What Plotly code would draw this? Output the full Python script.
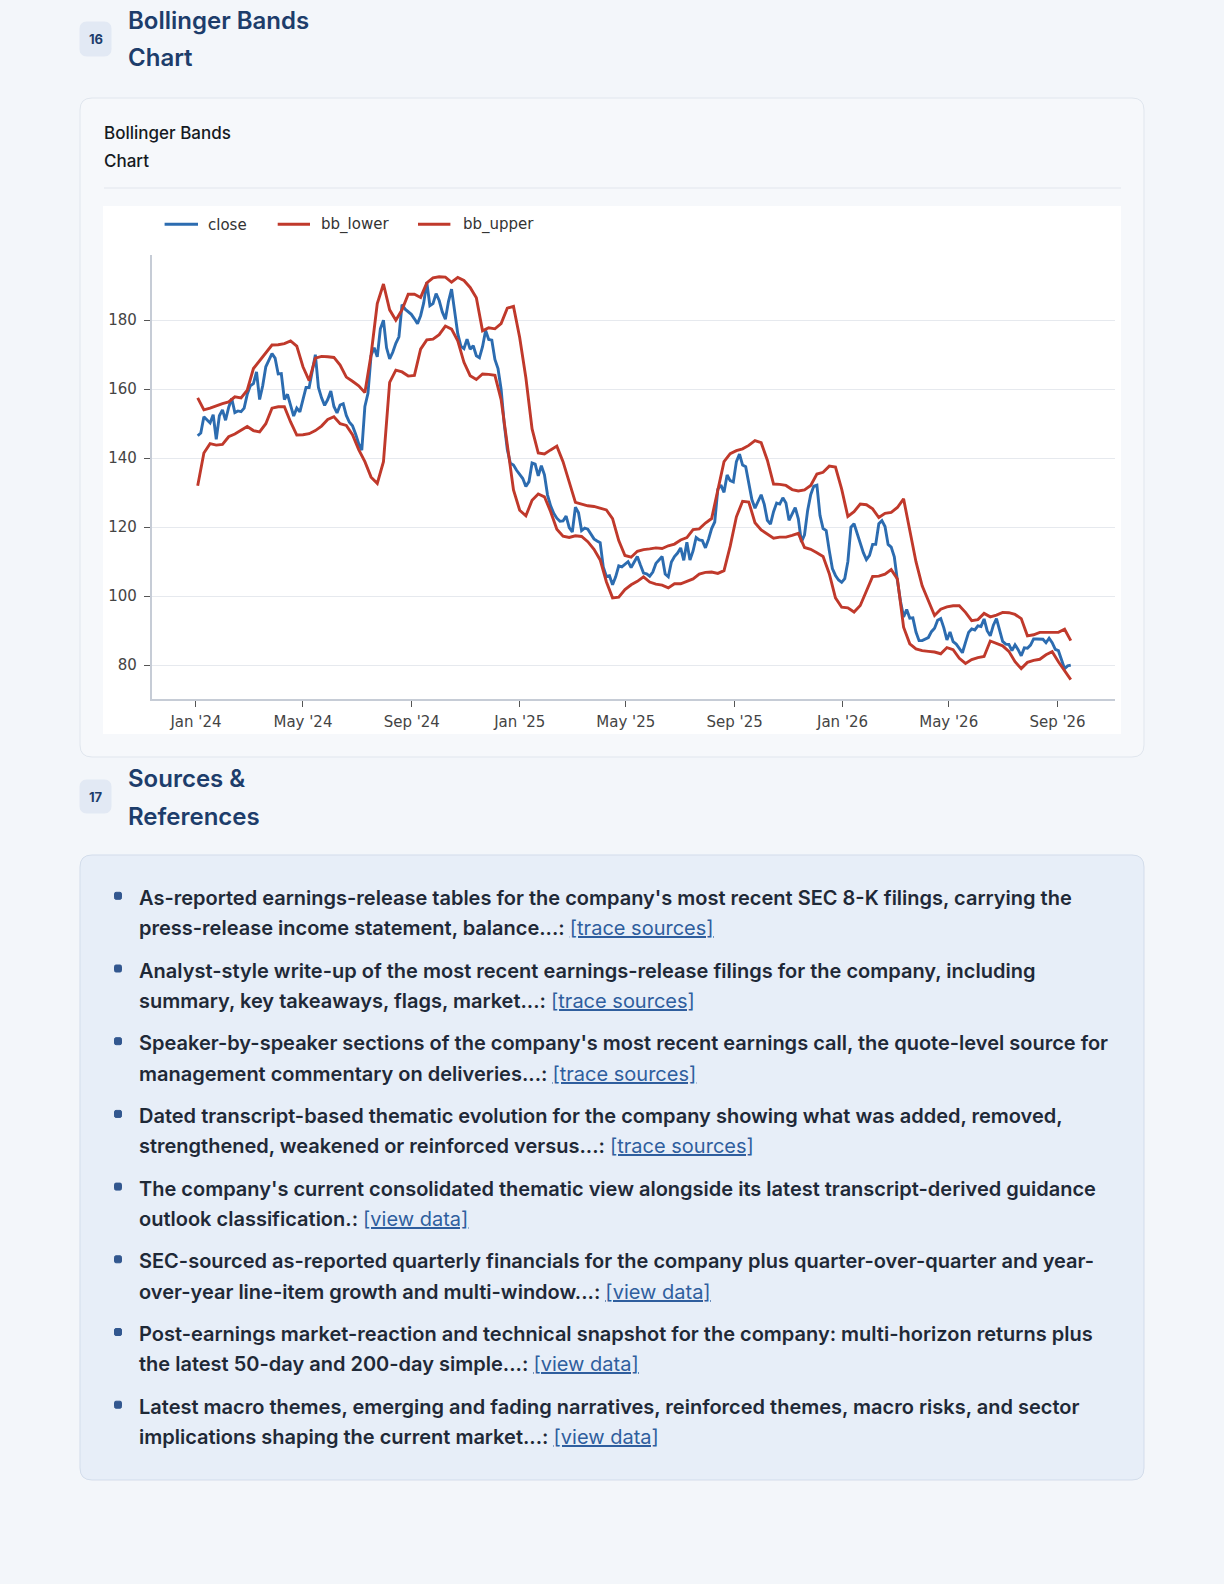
"""Bollinger Bands report page, rebuilt as a single Plotly figure."""

import pandas as pd
import plotly.graph_objects as go

W, H = 1224, 1584

PAGE = "#f3f6fa"
CARD = "#f6f8fb"
CARD_LINE = "#e0e6ee"
SRC_CARD = "#e7eef8"
SRC_LINE = "#d3ddeb"
BADGE = "#e2e9f4"
NAVY = "#1d3d6b"
BLUE = "#2c6cb0"
RED = "#c0392b"
INK = "#1f2937"
LINK = "#2f5e9e"
UI_FONT = "Inter, Roboto, sans-serif"
MPL_FONT = "DejaVu Sans, sans-serif"

# --------------------------------------------------------------------------- #
# Data: close read twice a week, bands read weekly (Jan 2024 - mid Sep 2026)
# --------------------------------------------------------------------------- #
close = [
    146.5, 147.3, 152, 151.2, 150.2, 152.6, 145.5, 152.3, 154, 151,
    154.7, 157.3, 153.2, 153.7, 153.5, 154.5, 158.5, 161, 161.6, 165,
    157, 161, 166.5, 168.4, 170.3, 169, 164.4, 164.5, 157, 158.5,
    155, 152.2, 154.5, 153.4, 157, 160.5, 160.5, 165, 170, 160.5,
    157.5, 155.3, 157, 159.5, 155, 153.1, 155.4, 155.8, 152.4, 150.4,
    149.4, 147, 144.2, 142.3, 155, 158.8, 169.8, 172, 169.4, 177.5,
    180, 172, 168.8, 170.7, 173.3, 175.2, 184.5, 183.2, 182.4, 181.7,
    180.4, 179, 181.3, 185, 191, 184.2, 184.8, 187.7, 185.7, 182.4,
    180.3, 185.4, 189, 182.5, 176.1, 172.5, 171.8, 174.5, 171.6, 172.6,
    169.7, 169.1, 172.3, 177, 174.4, 174.2, 168.6, 166, 160, 150,
    142.5, 138.5, 138, 136.5, 135.2, 134.1, 131.8, 133.2, 138.6, 138.3,
    134.9, 137.8, 135.2, 129.3, 126.2, 124, 122.6, 121.7, 121.8, 123.2,
    119.9, 118.6, 125.8, 124.2, 119, 119.7, 119.4, 117.9, 116.6, 116,
    115.5, 108.5, 105.7, 105.9, 103.3, 105.6, 108.8, 108.5, 109.2, 110,
    108.3, 110.1, 111.5, 109, 106.7, 106.5, 105.8, 107, 109.5, 110.5,
    111.5, 106.4, 105.6, 109.9, 111.5, 112.5, 114, 110.4, 115.6, 110.5,
    113.1, 117, 116.3, 116.1, 114, 116.5, 119.6, 121.5, 131, 132.2,
    130.1, 135.1, 133.5, 133.1, 139, 141.2, 138, 137.5, 133, 128,
    125.5, 127.3, 129.4, 126.6, 122, 120.9, 124.5, 127, 126.7, 128.5,
    127, 122, 123.9, 125.7, 122.4, 115.7, 117.8, 124.8, 129.4, 131.9,
    132.2, 123.4, 119.6, 119, 113.2, 108, 106, 104.7, 104, 105.1,
    110, 120, 121, 118.3, 115.8, 112.6, 110.6, 111.8, 115, 115,
    121, 121.9, 120.2, 115, 114.2, 111.4, 104.5, 98.5, 94, 96.1,
    93.6, 93.7, 89.6, 87.1, 87.1, 87.6, 88, 89.7, 90.7, 93,
    93.5, 90.8, 87.3, 89.6, 86.8, 86.1, 84.8, 83.6, 86.6, 89.5,
    90.5, 90.2, 91.4, 91.2, 93.4, 90, 88.5, 91.6, 93.5, 90.2,
    86.9, 86.1, 86, 84.2, 85.9, 84.5, 82.7, 85, 84.9, 85.8,
    87.6, 87.6, 87.6, 87.5, 86.5, 87.8, 86.5, 84.6, 84.2, 81.7,
    79, 79.8, 80,
]
bb_lower = [
    132, 141.5, 144.2, 143.8, 144, 146.2, 147, 148.1, 149.2, 148,
    147.6, 150, 154.5, 154.9, 154.9, 150.5, 146.7, 146.8, 147.1, 148,
    149.3, 151.2, 152, 150, 149.5, 146.8, 142.5, 139, 134.5, 132.7,
    139, 162, 165.5, 165, 163.8, 164, 171.6, 174.3, 174.5, 175.8,
    178.3, 177.4, 174, 167.8, 163.9, 162.8, 164.4, 164.3, 164, 157,
    143.1, 130.8, 124.9, 123.3, 127.8, 129.6, 128.8, 124.5, 119.4, 117.4,
    117, 117.5, 117.3, 115.8, 113.6, 110.5, 104.2, 99.5, 99.7, 101.9,
    103.3, 104.3, 105.6, 104.1, 103.5, 103.2, 102.4, 103.6, 103.6, 104.2,
    105, 106.4, 106.9, 107, 106.6, 107.4, 114.5, 123, 127.5, 127.3,
    121.3, 119.2, 118, 116.8, 117.1, 117.1, 117.6, 118.2, 114.1, 113.6,
    112.6, 111.5, 106.5, 99.5, 96.8, 96.6, 95.4, 97.3, 101.5, 105.7,
    105.8, 106.4, 107.7, 105, 91, 86.2, 84.7, 84.2, 84, 83.8,
    83.3, 85.1, 84.5, 82, 80.5, 81.6, 82.2, 82.5, 87, 86.3,
    85.6, 84, 81, 79, 80.8, 81.4, 81.7, 83, 83.9, 81,
    78.5, 75.8,
]
bb_upper = [
    157.5, 154, 154.5, 155.2, 155.8, 156.3, 157.8, 157.5, 159.7, 166,
    168.3, 170.5, 172.8, 172.9, 173.2, 174, 172.5, 166.5, 162.5, 169,
    169.5, 169.4, 169.2, 167, 163.5, 162.3, 161, 159, 170, 184.8,
    190.5, 183, 180, 183, 187.5, 187.5, 186.6, 190.8, 192.3, 192.6,
    192.5, 191, 192.4, 191.5, 189.5, 186.5, 176.9, 177.8, 177.5, 179,
    183.5, 184, 175, 163.3, 148.5, 141.5, 141.2, 142.4, 143.5, 139,
    133.2, 127.2, 126.7, 126.2, 126, 125.6, 125, 122.5, 116.1, 111.8,
    111.3, 113, 113.5, 113.7, 114, 113.8, 114.6, 115.1, 116.3, 117,
    119.3, 119.5, 121.2, 122.5, 131, 139, 141.3, 142.2, 142.7, 143.7,
    145.1, 144.5, 139.4, 132.5, 132.4, 132.1, 130.9, 130.5, 130.8, 132.1,
    135.4, 135.9, 137.7, 137.4, 131, 123.1, 124.5, 126.7, 126.5, 125.3,
    122.8, 124, 124.3, 125.7, 128.2, 119.5, 110, 103, 98.5, 94.4,
    96.2, 96.9, 97.2, 97.2, 95.3, 92.9, 93.2, 95, 94, 94.5,
    95.3, 95.2, 94.7, 93.5, 88.5, 88.8, 89.5, 89.5, 89.5, 89.5,
    90.4, 87.1,
]
close_dates = pd.date_range("2024-01-03", periods=len(close), freq="84h")
band_dates = pd.date_range("2024-01-03", periods=len(bb_lower), freq="7D")

x_tick_dates = ["2024-01-01", "2024-05-01", "2024-09-01", "2025-01-01", "2025-05-01",
                "2025-09-01", "2026-01-01", "2026-05-01", "2026-09-01"]
x_tick_text = ["Jan '24", "May '24", "Sep '24", "Jan '25", "May '25",
               "Sep '25", "Jan '26", "May '26", "Sep '26"]
y_ticks = [80, 100, 120, 140, 160, 180]

series = [
    ("close", close_dates, close, BLUE),
    ("bb_lower", band_dates, bb_lower, RED),
    ("bb_upper", band_dates, bb_upper, RED),
]

sources = [
    ("As-reported earnings-release tables for the company's most recent SEC 8-K filings, carrying the",
     "press-release income statement, balance...: ", "[trace sources]"),
    ("Analyst-style write-up of the most recent earnings-release filings for the company, including",
     "summary, key takeaways, flags, market...: ", "[trace sources]"),
    ("Speaker-by-speaker sections of the company's most recent earnings call, the quote-level source for",
     "management commentary on deliveries...: ", "[trace sources]"),
    ("Dated transcript-based thematic evolution for the company showing what was added, removed,",
     "strengthened, weakened or reinforced versus...: ", "[trace sources]"),
    ("The company's current consolidated thematic view alongside its latest transcript-derived guidance",
     "outlook classification.: ", "[view data]"),
    ("SEC-sourced as-reported quarterly financials for the company plus quarter-over-quarter and year-",
     "over-year line-item growth and multi-window...: ", "[view data]"),
    ("Post-earnings market-reaction and technical snapshot for the company: multi-horizon returns plus",
     "the latest 50-day and 200-day simple...: ", "[view data]"),
    ("Latest macro themes, emerging and fading narratives, reinforced themes, macro risks, and sector",
     "implications shaping the current market...: ", "[view data]"),
]


# --------------------------------------------------------------------------- #
# Helpers: page pixels -> paper coordinates
# --------------------------------------------------------------------------- #
def px(x):
    return x / W


def py(y):
    return 1 - y / H


def rounded(x0, y0, x1, y1, r):
    def p(x, y):
        return f"{px(x):.5f},{py(y):.5f}"
    return (f"M{p(x0 + r, y0)} L{p(x1 - r, y0)} Q{p(x1, y0)} {p(x1, y0 + r)} "
            f"L{p(x1, y1 - r)} Q{p(x1, y1)} {p(x1 - r, y1)} L{p(x0 + r, y1)} "
            f"Q{p(x0, y1)} {p(x0, y1 - r)} L{p(x0, y0 + r)} Q{p(x0, y0)} {p(x0 + r, y0)} Z")


def box(x0, y0, x1, y1, r, fill, line=None, width=1):
    return dict(type="path", xref="paper", yref="paper", path=rounded(x0, y0, x1, y1, r),
                fillcolor=fill, line=dict(color=line or fill, width=width), layer="below")


def text(x, y, s, size, color=INK, weight=400, family=UI_FONT, xanchor="left"):
    # annotations carry ~2px of inner padding; pull left-anchored text back by that
    if xanchor == "left":
        x -= 2
    return dict(x=px(x), y=py(y), xref="paper", yref="paper", text=s, showarrow=False,
                xanchor=xanchor, yanchor="middle", align="left",
                font=dict(family=family, size=size, color=color, weight=weight))


# --------------------------------------------------------------------------- #
# Figure
# --------------------------------------------------------------------------- #
fig = go.Figure()
for name, x, values, color in series:
    fig.add_trace(go.Scatter(x=x, y=values, mode="lines", name=name,
                             line=dict(color=color, width=2.9)))

shapes = [
    box(80, 98, 1144, 757, 12, CARD, CARD_LINE),                 # chart card
    box(80, 22, 111, 56, 7, BADGE),                              # badge 16
    dict(type="line", xref="paper", yref="paper", x0=px(104), x1=px(1121),
         y0=py(188), y1=py(188), line=dict(color="#e1e6ed", width=1.2)),
    dict(type="rect", xref="paper", yref="paper", x0=px(103), x1=px(1121),
         y0=py(206), y1=py(734), fillcolor="white", line=dict(width=0), layer="below"),
    box(80, 780, 111, 813, 7, BADGE),                            # badge 17
    box(80, 855, 1144, 1480, 12, SRC_CARD, SRC_LINE),            # sources card
]

annotations = [
    text(95.5, 39, "16", 13, NAVY, 700, xanchor="center"),
    text(128, 20, "Bollinger Bands", 24, NAVY, 600),
    text(128, 57.5, "Chart", 24, NAVY, 600),
    text(104, 133.5, "Bollinger Bands", 17, "#151a22", 500),
    text(104, 160.5, "Chart", 17, "#151a22", 500),
    text(95.5, 796.5, "17", 13, NAVY, 700, xanchor="center"),
    text(128, 778.5, "Sources &amp;", 24, NAVY, 600),
    text(128, 816, "References", 24, NAVY, 600),
]

# legend drawn as in the source image (line sample + label)
legend_slots = [(164.6, 198, 208), (277.7, 310, 321), (418, 450.4, 462.5)]
for (name, _, _, color), (lx0, lx1, tx) in zip(series, legend_slots):
    shapes.append(dict(type="line", xref="paper", yref="paper", x0=px(lx0), x1=px(lx1),
                       y0=py(224.2), y1=py(224.2), line=dict(color=color, width=3)))
    annotations.append(text(tx, 224.5, name, 15, "#333333", 400, MPL_FONT))

# sources list
for i, (first, second, link) in enumerate(sources):
    y1 = 897.8 + i * 72.7
    y2 = y1 + 30.3
    shapes.append(box(114.5, y1 - 5.5, 121.5, y1 + 1.5, 1.5, "#32578f"))
    annotations.append(text(139.4, y1, first, 20, INK, 600))
    annotations.append(text(
        139.4, y2,
        second + f"<span style='color:{LINK};font-weight:400;text-decoration:underline'>{link}</span>",
        20, INK, 600))

fig.update_layout(
    width=W, height=H,
    margin=dict(l=0, r=0, t=0, b=0),
    paper_bgcolor=PAGE,
    plot_bgcolor="white",
    showlegend=False,
    shapes=shapes,
    annotations=annotations,
    font=dict(family=MPL_FONT, size=15, color="#444444"),
    xaxis=dict(
        domain=[px(151.7), px(1115)],
        range=["2023-11-12", "2026-11-05"],
        tickvals=x_tick_dates, ticktext=x_tick_text,
        showgrid=False, zeroline=False,
        showline=True, linecolor="#c6ccd6", linewidth=1.6,
        ticks="outside", ticklen=6, tickwidth=1.3, tickcolor="#555555",
        ticklabelstandoff=2,
        tickfont=dict(family=MPL_FONT, size=15, color="#444444"),
    ),
    yaxis=dict(
        domain=[py(699.3), py(255)],
        range=[70.1, 198.9],
        tickvals=y_ticks,
        showgrid=True, gridcolor="#e6e9ee", gridwidth=1.3, zeroline=False,
        showline=True, linecolor="#c6ccd6", linewidth=1.6,
        ticks="outside", ticklen=6, tickwidth=1.3, tickcolor="#555555",
        ticklabelstandoff=4,
        tickfont=dict(family=MPL_FONT, size=15, color="#444444"),
    ),
)

# the page body carries a default 8px margin; drop it so the figure fills the window
fig.write_html("out.html", config={"displayModeBar": False},
               post_script="document.body.style.margin='0';")
